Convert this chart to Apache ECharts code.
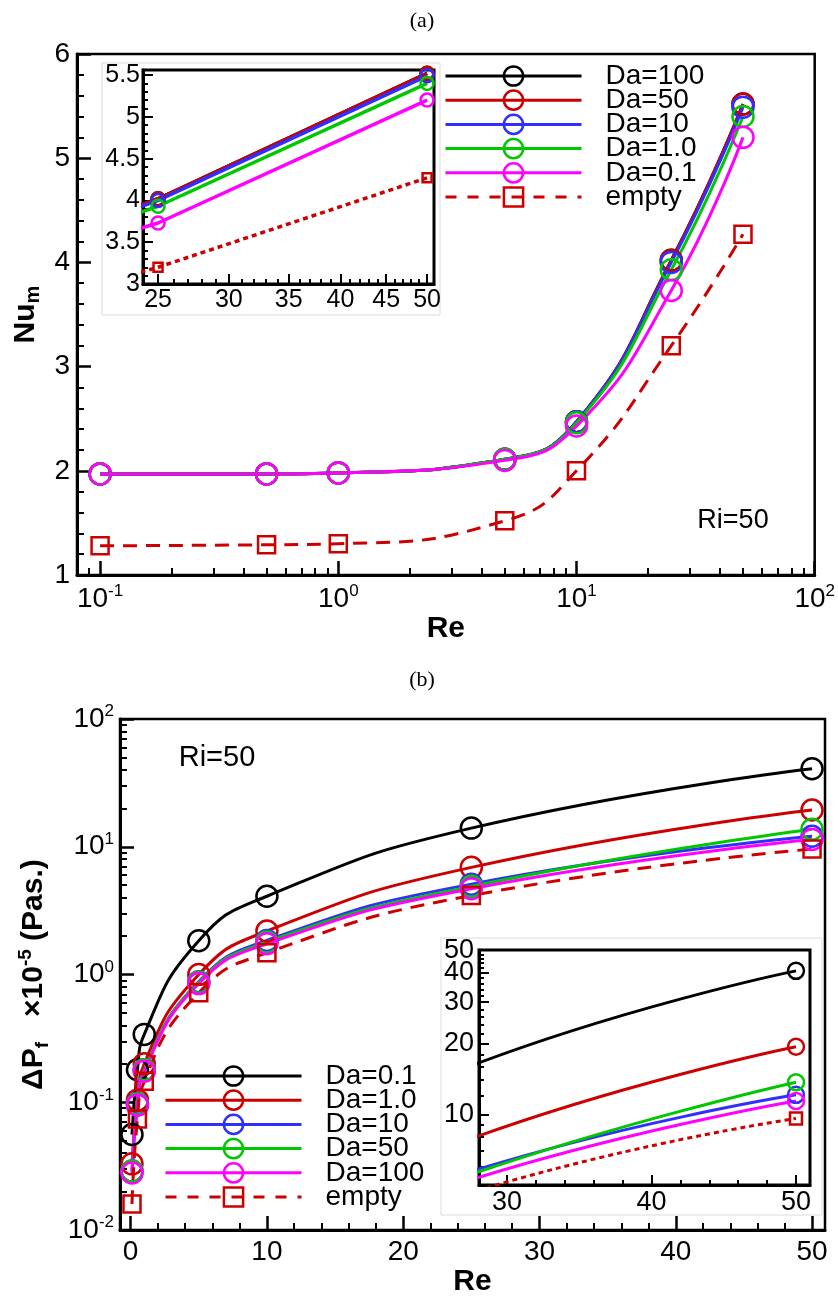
<!DOCTYPE html>
<html>
<head>
<meta charset="utf-8">
<script src="https://cdn.jsdelivr.net/npm/echarts@6/dist/echarts.min.js"></script>
<style>
html, body { margin: 0; padding: 0; background: #fff; }
#main { width: 838px; height: 1298px; }
</style>
</head>
<body>
<div id="main"></div>
<script>
// ---- panel (a) : Nu_m vs Re (log x) ----
var reA = [0.1, 0.5, 1, 5, 10, 25, 50];
var nuDa100 = [1.97, 1.97, 1.98, 2.11, 2.47, 4.02, 5.52];
var nuDa50 = [1.97, 1.97, 1.98, 2.11, 2.47, 4.02, 5.52];
var nuDa10 = [1.97, 1.97, 1.98, 2.11, 2.47, 4.00, 5.49];
var nuDa1 = [1.97, 1.97, 1.98, 2.11, 2.46, 3.93, 5.40];
var nuDa01 = [1.97, 1.97, 1.98, 2.10, 2.43, 3.73, 5.20];
var nuEmpty = [1.28, 1.29, 1.30, 1.52, 2.00, 3.20, 4.27];

// ---- panel (b) : pressure drop vs Re (log y) ----
var reB = [0.1, 0.5, 1, 5, 10, 25, 50];
var dpDa01 = [0.056, 0.18, 0.34, 1.84, 4.1, 14.0, 40.8];
var dpDa1 = [0.033, 0.104, 0.20, 1.0, 2.19, 6.9, 19.4];
var dpDa10 = [0.029, 0.098, 0.18, 0.88, 1.85, 5.1, 12.1];
var dpDa50 = [0.029, 0.097, 0.18, 0.87, 1.80, 4.9, 13.7];
var dpDa100 = [0.028, 0.095, 0.175, 0.85, 1.74, 4.7, 11.4];
var dpEmpty = [0.016, 0.074, 0.146, 0.72, 1.48, 4.15, 9.6];

// tick labels
var expTicksA = [-1, 0, 1, 2];          // 10^n on Re axis of (a)
var insetATicks = [25, 30, 35, 40, 45, 50];
var reTicksB = [0, 10, 20, 30, 40, 50];
var expTicksB = [-2, -1, 0, 1, 2];      // 10^n on dP axis of (b)
var insetBYTicks = [10, 20, 30, 40, 50];
var insetBXTicks = [30, 40, 50];

var FONT = 'Liberation Sans';
var RED = '#cc0000', BLUE = '#2f2fff', GREEN = '#00c800', MAG = '#ff00ff';

function lg(v) { return Math.log10(v); }

// axis ranges (log axes are drawn on log10 values)
var xMinA = lg(0.08), xMaxA = 2;
var xMinAi = lg(24.05), xMaxAi = lg(50.9);
var xMinB = -0.78, xMaxB = 50.95;
var xMinBi = 28.06, xMaxBi = 50.97;
var yMinBi = lg(5), yMaxBi = lg(50.05);

// minor tick positions
var minorA = [], minorAi = [], minorB = [], minorBy = [], minorBi = [], minorBiy = [];
for (var d = -2; d <= 1; d++) {
    for (var k = 2; k <= 9; k++) {
        var v = lg(k * Math.pow(10, d));
        if (v > xMinA && v < xMaxA) minorA.push(v);
        if (v > -2 && v < 2) minorBy.push(v);
    }
}
for (var i = 24; i <= 51; i++) if (i % 5 != 0) minorAi.push(lg(i));
for (var i = 2; i <= 50; i += 2) if (i % 10 != 0) minorB.push(i);
for (var i = 28; i <= 50; i += 2) if (i % 10 != 0) minorBi.push(i);
for (var i = 6; i <= 9; i++) minorBiy.push(lg(i));
for (var i = 12; i <= 48; i += 2) if (i % 10 != 0) minorBiy.push(lg(i));
var insetBYMajor = insetBYTicks.map(lg);
var insetAMajor = insetATicks.map(lg);
// the top label (50) sits on its own axis so the overlap check keeps both 40 and 50
var insetBYLow = insetBYMajor.slice(0, -1);
var insetBYTop = insetBYMajor.slice(-1);

function pairs(xs, ys, logX, logY) {
    return xs.map(function (x, i) {
        return [logX ? lg(x) : x, logY ? lg(ys[i]) : ys[i]];
    });
}

function mkLine(name, data, color, xi, yi, o) {
    return {
        name: name, type: 'line', xAxisIndex: xi, yAxisIndex: yi, data: data,
        smooth: o.smooth,
        symbol: o.symbol, symbolSize: o.size, showAllSymbol: true,
        lineStyle: { color: color, width: o.width, type: o.dash || 'solid' },
        itemStyle: { color: 'transparent', borderColor: color, borderWidth: o.border },
        z: o.z || 2, clip: true, silent: true
    };
}

function powLabel(v) { return '{b|10}{s|' + Math.round(v) + '}'; }
function powRich(size) {
    return {
        b: { fontSize: size, fontFamily: FONT, color: '#000', lineHeight: size + 4 },
        s: { fontSize: Math.round(size * 0.6), fontFamily: FONT, color: '#000', verticalAlign: 'top', lineHeight: Math.round(size * 0.6) + 2 }
    };
}
function unLog(v) { return Math.round(Math.pow(10, v)); }

var nameStyle = { fontFamily: FONT, fontWeight: 'bold', fontSize: 30, color: '#000' };

function minorAxis(grid, min, max, vals, len, pos) {
    return {
        gridIndex: grid, type: 'value', min: min, max: max, position: pos,
        axisLine: { show: false, onZero: false },
        axisTick: { inside: true, length: len, customValues: vals, lineStyle: { color: '#000', width: 2 } },
        axisLabel: { show: false }, splitLine: { show: false }, z: grid % 2 ? 5 : 0
    };
}

// legend rows
function legendItem(name, color, sym) {
    return {
        name: name,
        itemStyle: { color: 'transparent', borderColor: color, borderWidth: 2.5 },
        lineStyle: { color: color, width: 3, type: sym == 'rect' ? [11, 11] : 'solid' }
    };
}
function legendBox(left, top, items) {
    return {
        orient: 'vertical', left: left, top: top, padding: 0,
        itemWidth: 136, itemHeight: 24, itemGap: -3.8, selectedMode: false,
        data: items,
        formatter: function (n) { return '{g|}{t|' + n.split(':')[1] + '}'; },
        textStyle: {
            fontFamily: FONT, fontSize: 28, lineHeight: 24, color: '#000',
            rich: {
                g: { width: 19, lineHeight: 24 },
                t: { fontFamily: FONT, fontSize: 28, lineHeight: 24, color: '#000' }
            }
        }
    };
}

var symA = { smooth: 0.5, symbol: 'circle', size: 21, width: 3, border: 2.5 };
var sqA = { smooth: 0.5, symbol: 'rect', size: 17, width: 3, border: 2.5, dash: [14, 9] };
var symAi = { smooth: false, symbol: 'circle', size: 13, width: 3.5, border: 2.5, z: 5 };
var sqAi = { smooth: false, symbol: 'rect', size: 9, width: 3.5, border: 2.5, dash: [5, 4], z: 5 };
var symBi = { smooth: 0.5, symbol: 'circle', size: 16, width: 3, border: 2.5, z: 5 };
var sqBi = { smooth: 0.5, symbol: 'rect', size: 12, width: 3, border: 2.5, dash: [5, 4], z: 5 };

var seriesA = [
    ['Da=100', nuDa100, '#000000'], ['Da=50', nuDa50, RED], ['Da=10', nuDa10, BLUE],
    ['Da=1.0', nuDa1, GREEN], ['Da=0.1', nuDa01, MAG], ['empty', nuEmpty, RED]
];
var seriesB = [
    ['Da=0.1', dpDa01, '#000000'], ['Da=1.0', dpDa1, RED], ['Da=10', dpDa10, BLUE],
    ['Da=50', dpDa50, GREEN], ['Da=100', dpDa100, MAG], ['empty', dpEmpty, RED]
];

var series = [];
seriesA.forEach(function (s, i) {
    var last = i == seriesA.length - 1;
    series.push(mkLine('a:' + s[0], pairs(reA, s[1], true, false), s[2], 0, 0, last ? sqA : symA));
    series.push(mkLine('ai:' + s[0], pairs(reA, s[1], true, false), s[2], 2, 1, last ? sqAi : symAi));
});
seriesB.forEach(function (s, i) {
    var last = i == seriesB.length - 1;
    series.push(mkLine('b:' + s[0], pairs(reB, s[1], false, true), s[2], 4, 2, last ? sqA : symA));
    series.push(mkLine('bi:' + s[0], pairs(reB, s[1], false, true), s[2], 6, 4, last ? sqBi : symBi));
});

var myChart = echarts.init(document.getElementById('main'));
var option = {
    animation: false,
    textStyle: { fontFamily: FONT },
    grid: [
        { left: 77, top: 54, width: 738, height: 521, show: true, borderColor: '#000', borderWidth: 2.5, backgroundColor: 'transparent' },
        { left: 143, top: 70, width: 291, height: 214, show: true, borderColor: '#000', borderWidth: 3, backgroundColor: 'transparent', z: 4 },
        { left: 120, top: 719, width: 705, height: 516, show: true, borderColor: '#000', borderWidth: 2.5, backgroundColor: 'transparent' },
        { left: 479, top: 950, width: 331, height: 235, show: true, borderColor: '#000', borderWidth: 3, backgroundColor: 'transparent', z: 4 }
    ],
    xAxis: [
        {
            gridIndex: 0, type: 'value', min: xMinA, max: xMaxA, position: 'bottom',
            axisLine: { onZero: false, lineStyle: { color: '#000', width: 3 } },
            axisTick: { inside: true, length: 14, customValues: expTicksA, lineStyle: { color: '#000', width: 2.5 } },
            axisLabel: { customValues: expTicksA, margin: 8, formatter: powLabel, rich: powRich(28) },
            splitLine: { show: false },
            name: 'Re', nameLocation: 'middle', nameGap: 36, nameTextStyle: nameStyle
        },
        minorAxis(0, xMinA, xMaxA, minorA, 7, 'bottom'),
        {
            gridIndex: 1, type: 'value', min: xMinAi, max: xMaxAi, position: 'bottom', z: 5,
            axisLine: { onZero: false, lineStyle: { color: '#000', width: 3 } },
            axisTick: { inside: true, length: 10, customValues: insetAMajor, lineStyle: { color: '#000', width: 2 } },
            axisLabel: { customValues: insetAMajor, margin: 4, fontSize: 25, color: '#000', formatter: unLog },
            splitLine: { show: false }
        },
        minorAxis(1, xMinAi, xMaxAi, minorAi, 5, 'bottom'),
        {
            gridIndex: 2, type: 'value', min: xMinB, max: xMaxB, position: 'bottom',
            axisLine: { onZero: false, lineStyle: { color: '#000', width: 3 } },
            axisTick: { inside: true, length: 14, customValues: reTicksB, lineStyle: { color: '#000', width: 2.5 } },
            axisLabel: { customValues: reTicksB, margin: 8, fontSize: 28, color: '#000' },
            splitLine: { show: false },
            name: 'Re', nameLocation: 'middle', nameGap: 34, nameTextStyle: nameStyle
        },
        minorAxis(2, xMinB, xMaxB, minorB, 7, 'bottom'),
        {
            gridIndex: 3, type: 'value', min: xMinBi, max: xMaxBi, position: 'bottom', z: 5,
            axisLine: { onZero: false, lineStyle: { color: '#000', width: 3 } },
            axisTick: { inside: true, length: 10, customValues: insetBXTicks, lineStyle: { color: '#000', width: 2 } },
            axisLabel: { customValues: insetBXTicks, margin: 4, fontSize: 27, color: '#000' },
            splitLine: { show: false }
        },
        minorAxis(3, xMinBi, xMaxBi, minorBi, 5, 'bottom')
    ],
    yAxis: [
        {
            gridIndex: 0, type: 'value', min: 1, max: 6, interval: 1, position: 'left',
            axisLine: { onZero: false, lineStyle: { color: '#000', width: 3 } },
            axisTick: { inside: true, length: 14, lineStyle: { color: '#000', width: 2.5 } },
            minorTick: { show: true, splitNumber: 5, length: 7, lineStyle: { color: '#000', width: 2 } },
            axisLabel: { margin: 7, fontSize: 28, color: '#000' },
            splitLine: { show: false }, minorSplitLine: { show: false },
            name: '{b|Nu}{s|m}', nameLocation: 'middle', nameGap: 26, nameRotate: 90,
            nameTextStyle: {
                fontFamily: FONT, fontWeight: 'bold', color: '#000',
                rich: {
                    b: { fontFamily: FONT, fontWeight: 'bold', fontSize: 30, lineHeight: 36 },
                    s: { fontFamily: FONT, fontWeight: 'bold', fontSize: 20, lineHeight: 22, verticalAlign: 'bottom' }
                }
            }
        },
        {
            gridIndex: 1, type: 'value', min: 3, max: 5.56, interval: 0.5, position: 'left', z: 5,
            axisLine: { onZero: false, lineStyle: { color: '#000', width: 3 } },
            axisTick: { inside: true, length: 10, lineStyle: { color: '#000', width: 2 } },
            minorTick: { show: true, splitNumber: 5, length: 5, lineStyle: { color: '#000', width: 2 } },
            axisLabel: { margin: 3, fontSize: 25, color: '#000' },
            splitLine: { show: false }, minorSplitLine: { show: false }
        },
        {
            gridIndex: 2, type: 'value', min: -2, max: 2, interval: 1, position: 'left',
            axisLine: { onZero: false, lineStyle: { color: '#000', width: 3 } },
            axisTick: { inside: true, length: 14, lineStyle: { color: '#000', width: 2.5 } },
            axisLabel: { margin: 6, formatter: powLabel, rich: powRich(28) },
            splitLine: { show: false },
            name: '{b|ΔP}{sub|f}{b|   ×10}{sup|-5}{b| (Pas.)}', nameLocation: 'middle', nameGap: 68, nameRotate: 90,
            nameTextStyle: {
                fontFamily: FONT, fontWeight: 'bold', color: '#000',
                rich: {
                    b: { fontFamily: FONT, fontWeight: 'bold', fontSize: 30, lineHeight: 36 },
                    sub: { fontFamily: FONT, fontWeight: 'bold', fontSize: 19, lineHeight: 20, verticalAlign: 'bottom' },
                    sup: { fontFamily: FONT, fontWeight: 'bold', fontSize: 19, lineHeight: 20, verticalAlign: 'top' }
                }
            }
        },
        minorAxis(2, -2, 2, minorBy, 7, 'left'),
        {
            gridIndex: 3, type: 'value', min: yMinBi, max: yMaxBi, position: 'left', z: 5,
            axisLine: { onZero: false, lineStyle: { color: '#000', width: 3 } },
            axisTick: { inside: true, length: 10, customValues: insetBYMajor, lineStyle: { color: '#000', width: 2 } },
            axisLabel: { customValues: insetBYLow, margin: 5, fontSize: 27, color: '#000', formatter: unLog },
            splitLine: { show: false }
        },
        {
            gridIndex: 3, type: 'value', min: yMinBi, max: yMaxBi, position: 'left', z: 5,
            axisLine: { show: false, onZero: false },
            axisTick: { inside: true, length: 5, customValues: minorBiy, lineStyle: { color: '#000', width: 2 } },
            axisLabel: { customValues: insetBYTop, margin: 5, fontSize: 27, color: '#000', formatter: unLog },
            splitLine: { show: false }
        }
    ],
    legend: [
        legendBox(444, 62, seriesA.map(function (s, i) {
            return legendItem('a:' + s[0], s[2], i == 5 ? 'rect' : 'circle');
        })),
        legendBox(164, 1062, seriesB.map(function (s, i) {
            return legendItem('b:' + s[0], s[2], i == 5 ? 'rect' : 'circle');
        }))
    ],
    graphic: [
        { type: 'rect', z: 3, shape: { x: 102, y: 63, width: 338, height: 252 }, style: { fill: '#fff', stroke: '#dcdcdc', lineWidth: 1 } },
        { type: 'rect', z: 3, shape: { x: 441, y: 938, width: 381, height: 277 }, style: { fill: '#fff', stroke: '#dcdcdc', lineWidth: 1 } },
        { type: 'text', x: 422, y: 21, z: 6, style: { text: '(a)', font: '22px "Liberation Serif"', fill: '#000', textAlign: 'center', textVerticalAlign: 'middle', align: 'center', verticalAlign: 'middle' } },
        { type: 'text', x: 422, y: 680, z: 6, style: { text: '(b)', font: '22px "Liberation Serif"', fill: '#000', textAlign: 'center', textVerticalAlign: 'middle', align: 'center', verticalAlign: 'middle' } },
        { type: 'text', x: 733, y: 521, z: 6, style: { text: 'Ri=50', font: '27px "Liberation Sans"', fill: '#000', textAlign: 'center', textVerticalAlign: 'middle', align: 'center', verticalAlign: 'middle' } },
        { type: 'text', x: 217, y: 758, z: 6, style: { text: 'Ri=50', font: '29px "Liberation Sans"', fill: '#000', textAlign: 'center', textVerticalAlign: 'middle', align: 'center', verticalAlign: 'middle' } }
    ],
    series: series
};
option && myChart.setOption(option);
</script>
</body>
</html>
